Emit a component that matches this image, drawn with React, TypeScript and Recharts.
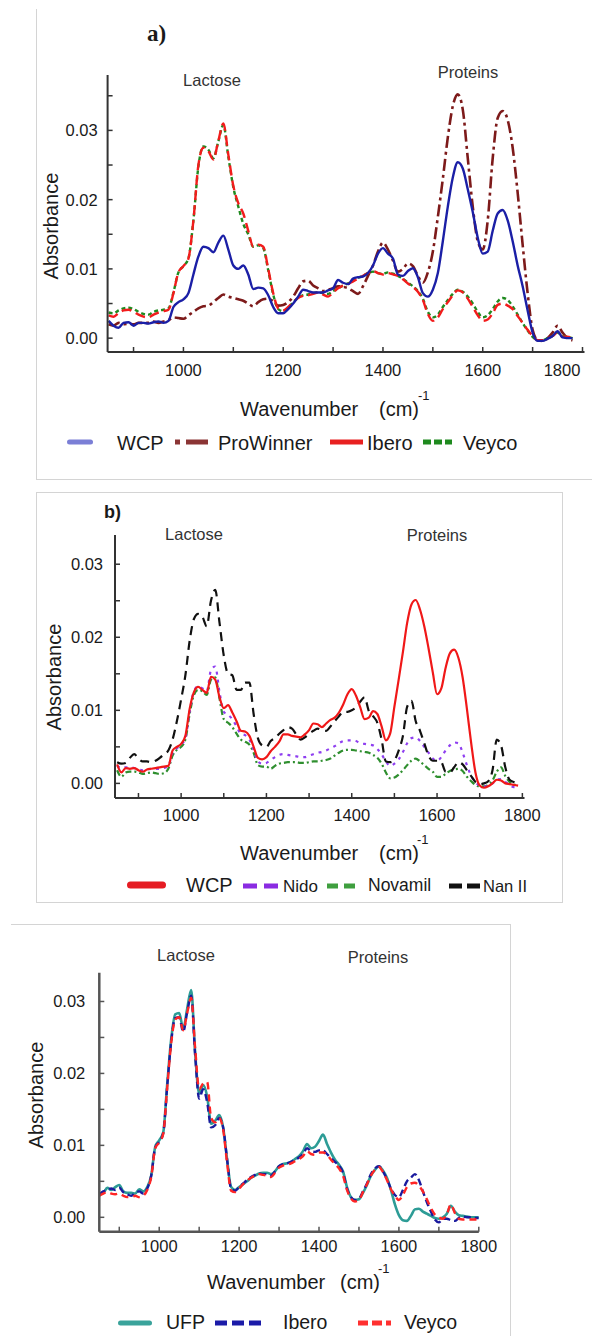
import React from "react";
import { LineChart, Line, XAxis, YAxis } from "recharts";

// shared wavenumber grid (cm-1)
const WAVENUMBERS = [
  850, 860, 870, 880, 890, 900, 910, 920, 930, 940,
  950, 960, 970, 980, 990, 1000, 1010, 1020, 1030, 1040,
  1050, 1060, 1070, 1080, 1090, 1100, 1110, 1120, 1130, 1140,
  1150, 1160, 1170, 1180, 1190, 1200, 1210, 1220, 1230, 1240,
  1250, 1260, 1270, 1280, 1290, 1300, 1310, 1320, 1330, 1340,
  1350, 1360, 1370, 1380, 1390, 1400, 1410, 1420, 1430, 1440,
  1450, 1460, 1470, 1480, 1490, 1500, 1510, 1520, 1530, 1540,
  1550, 1560, 1570, 1580, 1590, 1600, 1610, 1620, 1630, 1640,
  1650, 1660, 1670, 1680, 1690, 1700, 1710, 1720, 1730, 1740,
  1750, 1760, 1770, 1780, 1790, 1800,
];

const X_TICKS = [900, 1000, 1100, 1200, 1300, 1400, 1500, 1600, 1700, 1800];
const Y_TICKS_A = [0, 0.005, 0.01, 0.015, 0.02, 0.025, 0.03, 0.035];
const Y_TICKS = [0, 0.005, 0.01, 0.015, 0.02, 0.025, 0.03];

// ---- panel a ----
const A_WCP = [
  0.0025, 0.0018, 0.0015, 0.0022, 0.0023, 0.0018, 0.0022, 0.0022, 0.0021, 0.0023,
  0.0024, 0.0022, 0.0025, 0.0045, 0.0052, 0.0056, 0.0065, 0.0092, 0.0118, 0.0132,
  0.013, 0.0124, 0.0138, 0.0148, 0.0128, 0.0105, 0.01, 0.0105, 0.0092, 0.0071,
  0.0073, 0.0072, 0.0062, 0.0045, 0.0036, 0.0036, 0.0042, 0.005, 0.006, 0.007,
  0.0068, 0.0066, 0.0066, 0.0066, 0.0069, 0.0072, 0.0084, 0.008, 0.0078, 0.0086,
  0.0088, 0.0089, 0.0094, 0.0105, 0.0122, 0.013, 0.0122, 0.0115, 0.0092, 0.009,
  0.0097, 0.0101, 0.0088, 0.0065, 0.006, 0.007, 0.0094, 0.014, 0.019, 0.0232,
  0.0254, 0.0245, 0.0215, 0.0182, 0.0145, 0.0122, 0.0125, 0.0155, 0.018, 0.0185,
  0.017, 0.014, 0.0105, 0.0075, 0.004, 0.0008, -0.0004, -0.0004, -0.0001, 0.0003,
  0.001, 0.0001, 0.0, 0.0,
];
const A_PROWINNER = [
  0.002, 0.0018, 0.0022, 0.002, 0.0021, 0.002, 0.0022, 0.0022, 0.0022, 0.0024,
  0.0022, 0.0024, 0.0026, 0.003, 0.0029, 0.0028, 0.0033, 0.0038, 0.0043, 0.0046,
  0.0047, 0.0052, 0.0058, 0.0063, 0.006, 0.0058, 0.0056, 0.0054, 0.005, 0.0046,
  0.0052, 0.0056, 0.0057, 0.0053, 0.0047, 0.0048, 0.0052, 0.006, 0.0072, 0.0082,
  0.0083, 0.0076, 0.0072, 0.0068, 0.007, 0.0072, 0.0075, 0.0074, 0.0072, 0.0068,
  0.0064, 0.0075, 0.009, 0.0105, 0.0125, 0.0138, 0.0128, 0.0112, 0.0096, 0.01,
  0.0108, 0.0104, 0.009, 0.008, 0.0095, 0.0125, 0.0175, 0.023, 0.029, 0.0335,
  0.0352, 0.033, 0.026, 0.019, 0.014, 0.0128, 0.017, 0.026, 0.0318, 0.0328,
  0.0315, 0.0275, 0.021, 0.0135, 0.0065, 0.0012, -0.0003, -0.0004, 0.0, 0.0008,
  0.0018, 0.0008, 0.0, -0.0003,
];
const A_IBERO = [
  0.0033, 0.0031, 0.0036, 0.004, 0.0041, 0.0038, 0.0034, 0.0031, 0.003, 0.0034,
  0.0037, 0.0039, 0.0041, 0.0065, 0.0095, 0.0104, 0.0115, 0.017, 0.025, 0.0275,
  0.027, 0.0258, 0.0285, 0.031, 0.0265, 0.022, 0.0195, 0.018, 0.0155, 0.0132,
  0.0135, 0.0132, 0.01, 0.0065, 0.0043, 0.004, 0.0045, 0.0052, 0.0058, 0.0061,
  0.0062, 0.0064, 0.0066, 0.0063, 0.006, 0.0066, 0.0072, 0.0076, 0.0078, 0.0082,
  0.0086, 0.009, 0.0094, 0.0097, 0.0094, 0.0092, 0.0094, 0.0092, 0.009, 0.0085,
  0.0079, 0.0074, 0.0067, 0.0055, 0.0035, 0.0025, 0.003, 0.0042, 0.0052, 0.0062,
  0.0069, 0.0066, 0.0057, 0.0045, 0.0033, 0.0025, 0.0027, 0.0036, 0.0048, 0.005,
  0.0047, 0.0042, 0.0032, 0.0022, 0.0012, 0.0003, -0.0003, -0.0003, 0.0, 0.0003,
  0.0008, 0.0002, 0.0002, 0.0,
];
const A_VEYCO = [
  0.0037, 0.0036, 0.004, 0.0043, 0.0044, 0.0042, 0.0038, 0.0035, 0.0034, 0.0038,
  0.004, 0.0041, 0.0043, 0.0066, 0.0095, 0.0104, 0.0115, 0.017, 0.0248, 0.0277,
  0.0272, 0.026, 0.0284, 0.0308, 0.0262, 0.0218, 0.019, 0.0165, 0.015, 0.0132,
  0.0134, 0.013, 0.0098, 0.0063, 0.0042, 0.0039, 0.0044, 0.0052, 0.0058, 0.0062,
  0.0063, 0.0065, 0.0066, 0.0065, 0.0064, 0.0068, 0.0072, 0.0076, 0.0079, 0.0083,
  0.0087, 0.009, 0.0094, 0.0096, 0.0094, 0.0093, 0.0095, 0.0093, 0.009, 0.0086,
  0.008, 0.0075, 0.0068, 0.0057, 0.0038, 0.003, 0.0034, 0.0045, 0.0055, 0.0064,
  0.007, 0.0067, 0.006, 0.005, 0.0038, 0.003, 0.0033, 0.0042, 0.0053, 0.0058,
  0.0055, 0.0046, 0.0034, 0.0022, 0.0011, 0.0002, -0.0003, -0.0003, 0.0, 0.0003,
  0.0008, 0.0003, 0.0002, 0.0,
];

// ---- panel b ----
const B_WCP = [
  0.0026, 0.0015, 0.0021, 0.002, 0.0021, 0.0018, 0.0016, 0.0019, 0.002, 0.0021,
  0.0022, 0.0023, 0.0024, 0.0045, 0.005, 0.0054, 0.0065, 0.0102, 0.0125, 0.0132,
  0.0128, 0.0124, 0.0146, 0.0142, 0.0118, 0.0103, 0.0107, 0.0097, 0.0085, 0.0072,
  0.0071, 0.0065, 0.005, 0.0035, 0.0033, 0.0036, 0.0044, 0.005, 0.0057, 0.0067,
  0.0067, 0.0065, 0.0064, 0.0063, 0.0067, 0.0073, 0.0082, 0.0081, 0.0077, 0.0082,
  0.0087, 0.009, 0.0097, 0.0108, 0.0122, 0.0129, 0.012, 0.0104, 0.0088, 0.009,
  0.0099, 0.0095, 0.0078, 0.0059, 0.0068, 0.0105, 0.0142, 0.018, 0.022, 0.0245,
  0.0251, 0.0238, 0.0215, 0.0185, 0.0152, 0.0122, 0.013, 0.0158, 0.0178, 0.0183,
  0.0172, 0.0145, 0.0102, 0.0055, 0.0015, -0.0003, -0.0006, -0.0004, 0.0, 0.0005,
  0.0004, 0.0, -0.0001, -0.0002, -0.0003,
];
const B_NIDO = [
  0.0024, 0.0021, 0.0022, 0.0022, 0.0021, 0.0019, 0.0018, 0.0019, 0.002, 0.002,
  0.002, 0.0021, 0.0024, 0.0042, 0.0048, 0.0053, 0.0062, 0.0098, 0.0126, 0.0133,
  0.013, 0.0126, 0.0155, 0.016, 0.0125, 0.0098, 0.0094, 0.0088, 0.0078, 0.0068,
  0.0066, 0.006, 0.0046, 0.003, 0.0027, 0.0028, 0.0032, 0.0036, 0.0039, 0.004,
  0.0039, 0.0038, 0.0037, 0.0036, 0.0036, 0.0038, 0.004, 0.0042, 0.0043, 0.0045,
  0.0048, 0.0051, 0.0055, 0.0058, 0.0059, 0.0059, 0.0058, 0.0055, 0.0054, 0.0053,
  0.0052, 0.0047, 0.004, 0.003, 0.0024, 0.0027, 0.0033, 0.0043, 0.0055, 0.0062,
  0.0063, 0.0058, 0.005, 0.0042, 0.0034, 0.0031, 0.0036, 0.0045, 0.0052, 0.0056,
  0.0055, 0.0042, 0.0025, 0.001, 0.0002, -0.0003, -0.0004, -0.0003, 0.0, 0.0005,
  0.0006, 0.0002, -0.0002, -0.0005, -0.0005,
];
const B_NOVAMIL = [
  0.0018, 0.0009, 0.0015, 0.0016, 0.0016, 0.0015, 0.0013, 0.0014, 0.0015, 0.0014,
  0.0013, 0.0014, 0.002, 0.0038, 0.0046, 0.005, 0.006, 0.0095, 0.0121, 0.0128,
  0.0126, 0.0121, 0.0142, 0.0145, 0.0116, 0.0088, 0.0083, 0.0077, 0.0068, 0.006,
  0.0057, 0.0053, 0.0042, 0.0025, 0.0023, 0.0023, 0.002, 0.0024, 0.0027, 0.0028,
  0.0029, 0.0029, 0.0029, 0.0028, 0.0028, 0.0029, 0.003, 0.003, 0.0031, 0.0032,
  0.0034, 0.0038, 0.0042, 0.0045, 0.0046, 0.0046, 0.0045, 0.0044, 0.0043, 0.0042,
  0.0039, 0.0035, 0.0027, 0.0015, 0.0007, 0.0008, 0.0012, 0.0018, 0.0025, 0.0031,
  0.0034, 0.003, 0.0025, 0.002, 0.0016, 0.0009, 0.0009, 0.0013, 0.0017, 0.0019,
  0.002, 0.0017, 0.0009, 0.0003, -0.0002, -0.0004, -0.0004, -0.0002, 0.0004, 0.0016,
  0.0022, 0.001, 0.0002, -0.0002, -0.0002,
];
const B_NAN2 = [
  0.0029, 0.0027, 0.0028, 0.0035, 0.004, 0.0034, 0.003, 0.003, 0.0029, 0.0031,
  0.0035, 0.004, 0.0045, 0.006, 0.0085, 0.0115, 0.0148, 0.0195, 0.0225, 0.0232,
  0.0228, 0.0215, 0.025, 0.0265, 0.022, 0.0175, 0.015, 0.0148, 0.0128, 0.0128,
  0.0138, 0.0138, 0.0095, 0.0062, 0.0052, 0.005, 0.0058, 0.0062, 0.0068, 0.0073,
  0.0077, 0.0075, 0.0067, 0.006, 0.0063, 0.0068, 0.0072, 0.0075, 0.0073, 0.0072,
  0.0078, 0.0085, 0.0092, 0.0098, 0.0098, 0.01, 0.0104, 0.0112, 0.0118, 0.0099,
  0.0092, 0.0083, 0.006, 0.003, 0.0029, 0.0032, 0.0045, 0.0065, 0.0105, 0.0113,
  0.0085, 0.0072, 0.0055, 0.0038, 0.0031, 0.0031, 0.0029, 0.0016, 0.0015, 0.0022,
  0.0029, 0.0026, 0.0018, 0.001, 0.0002, -0.0001, 0.0, 0.0003, 0.0018, 0.006,
  0.0052, 0.0022, 0.0005, 0.0002, 0.0001,
];

// ---- panel c ----
const C_UFP = [
  0.0033, 0.0034, 0.0041, 0.0038, 0.0042, 0.0045, 0.0036, 0.0034, 0.0034, 0.0033,
  0.0039, 0.0036, 0.0042, 0.0058, 0.0098, 0.0107, 0.0118, 0.0185, 0.0248, 0.0282,
  0.0284, 0.0262, 0.029, 0.0316, 0.0228, 0.0172, 0.0184, 0.0168, 0.013, 0.0134,
  0.0142, 0.0125, 0.008, 0.0042, 0.0038, 0.0042, 0.0046, 0.005, 0.0055, 0.0058,
  0.0061, 0.0062, 0.0062, 0.006, 0.0064, 0.0071, 0.0074, 0.0075, 0.0077, 0.0081,
  0.0085, 0.0092, 0.0102, 0.0096, 0.0098, 0.0106, 0.0115, 0.0102, 0.009, 0.008,
  0.0073, 0.0064, 0.0042, 0.0028, 0.0024, 0.0025, 0.0034, 0.0045, 0.0058, 0.0066,
  0.0071, 0.0065, 0.0055, 0.0038, 0.0018, 0.0003, -0.0004, -0.0005, 0.0002, 0.0011,
  0.0012, 0.0008, 0.0005, 0.0002, -0.0001, -0.0002, 0.0, 0.0005, 0.0016, 0.0008,
  0.0003, 0.0002, 0.0001, 0.0, 0.0, 0.0,
];
const C_IBERO = [
  0.0032, 0.0036, 0.0038, 0.004, 0.0038, 0.0041, 0.0035, 0.0032, 0.003, 0.0034,
  0.0036, 0.0033, 0.004, 0.0058, 0.0097, 0.0105, 0.0117, 0.0182, 0.0244, 0.0277,
  0.0278, 0.0258, 0.0285, 0.0308, 0.0225, 0.0165, 0.0178, 0.016, 0.0125, 0.0128,
  0.0138, 0.0125, 0.008, 0.004, 0.0037, 0.0042, 0.0047, 0.0052, 0.0056, 0.0059,
  0.0061, 0.006, 0.006, 0.0058, 0.0064, 0.0071, 0.0074, 0.0075, 0.0077, 0.008,
  0.0083, 0.0088, 0.0096, 0.0092, 0.0091, 0.0093, 0.0093, 0.0088, 0.0082, 0.0077,
  0.0072, 0.0062, 0.004, 0.0028, 0.0024, 0.0026, 0.0036, 0.0047, 0.006, 0.0068,
  0.0071, 0.0064, 0.0053, 0.004, 0.0031, 0.0028, 0.0038, 0.005, 0.0055, 0.006,
  0.0052, 0.0036, 0.0021, 0.0008, -0.0003, -0.0007, -0.0002, -0.0002, -0.0004, -0.0005,
  -0.0001, 0.0001, 0.0, 0.0, -0.0001, -0.0001,
];
const C_VEYCO = [
  0.003, 0.0033, 0.0035, 0.0033, 0.0032, 0.0033, 0.003, 0.0028, 0.0028, 0.003,
  0.0028, 0.003, 0.0038, 0.0056, 0.0096, 0.0104, 0.0116, 0.018, 0.0242, 0.0275,
  0.0278, 0.026, 0.0284, 0.0305, 0.0235, 0.0178, 0.0186, 0.0188, 0.0138, 0.0132,
  0.0138, 0.0122, 0.0075, 0.0037, 0.0035, 0.004, 0.0046, 0.0051, 0.0055, 0.0058,
  0.006, 0.0059, 0.0058, 0.0056, 0.0062, 0.0069, 0.0072, 0.0073, 0.0075, 0.0078,
  0.0081, 0.0085, 0.0092, 0.0088, 0.0087, 0.009, 0.009, 0.0087, 0.008, 0.0074,
  0.0068, 0.0058, 0.0038, 0.0026, 0.0022, 0.0024, 0.0035, 0.0046, 0.0058, 0.0066,
  0.007, 0.0063, 0.0052, 0.0039, 0.003, 0.0024, 0.0031, 0.0042, 0.0047, 0.0048,
  0.0044, 0.0036, 0.0025, 0.0013, 0.0004, 0.0, -0.0002, 0.0004, 0.0018, 0.0006,
  -0.0002, -0.0003, -0.0003, -0.0003, -0.0003, -0.0003,
];

const FONT = '"Liberation Sans", Arial, sans-serif';
const INK = "#1a1a1a";

type Series = { key: string; data: number[]; color: string; width: number; dash?: string };

function XTick(props: any) {
  const { x, y, payload, dy, color, maxLabelX } = props;
  const v = payload.value as number;
  // keep the last label inside the page, like the original figure does
  const lx = maxLabelX ? Math.min(x, maxLabelX) : x;
  return (
    <g>
      <line x1={x} x2={x} y1={y} y2={y - 5} stroke={color} strokeWidth={1.5} />
      {v % 200 === 0 && (
        <text x={lx} y={y + dy} textAnchor="middle" fontSize={16.5} fontFamily={FONT} fill={INK}>
          {v}
        </text>
      )}
    </g>
  );
}

function YTick(props: any) {
  const { x, y, payload, gap, color } = props;
  const v = payload.value as number;
  const major = Math.round(v * 1000) % 10 === 0;
  return (
    <g>
      <line x1={x} x2={x + 5} y1={y} y2={y} stroke={color} strokeWidth={1.5} />
      {major && (
        <text x={x - gap} y={y + 6} textAnchor="end" fontSize={16.5} fontFamily={FONT} fill={INK}>
          {v.toFixed(2)}
        </text>
      )}
    </g>
  );
}

function Spectrum({
  top, height, margin, xDomain, yDomain, yTicks, series, yGap, xDy, axisColor, axisWidth, maxLabelX,
}: {
  top: number; height: number;
  margin: { top: number; right: number; bottom: number; left: number };
  xDomain: [number, number]; yDomain: [number, number]; yTicks: number[];
  series: Series[]; yGap: number; xDy: number; axisColor: string; axisWidth: number;
  maxLabelX?: number;
}) {
  const rows = WAVENUMBERS.map((w, i) => {
    const r: Record<string, number | undefined> = { w };
    series.forEach((s) => { r[s.key] = s.data[i]; });
    return r;
  });
  return (
    <div style={{ position: "absolute", left: 0, top }}>
      <LineChart width={592} height={height} data={rows} margin={margin}>
        <XAxis
          dataKey="w" type="number" domain={xDomain} allowDataOverflow
          ticks={X_TICKS} interval={0} height={40} tickSize={0} tickMargin={0}
          axisLine={{ stroke: axisColor, strokeWidth: axisWidth }} tickLine={false}
          tick={(p: any) => <XTick {...p} dy={xDy} color={axisColor} maxLabelX={maxLabelX} />}
        />
        <YAxis
          type="number" domain={yDomain} allowDataOverflow
          ticks={yTicks} interval={0} width={60} tickSize={0} tickMargin={0}
          axisLine={{ stroke: axisColor, strokeWidth: axisWidth }} tickLine={false}
          tick={(p: any) => <YTick {...p} gap={yGap} color={axisColor} />}
        />
        {series.map((s) => (
          <Line
            key={s.key} dataKey={s.key} type="monotone" stroke={s.color}
            strokeWidth={s.width} strokeDasharray={s.dash} dot={false}
            isAnimationActive={false}
          />
        ))}
      </LineChart>
    </div>
  );
}

function T({ x, y, size, children, center = false, weight = 400, family = FONT, color = INK }: any) {
  return (
    <div
      style={{
        position: "absolute", left: x, top: y, fontSize: size, fontFamily: family,
        fontWeight: weight, color, lineHeight: 1, whiteSpace: "nowrap",
        transform: center ? "translate(-50%, -50%)" : "translateY(-50%)",
      }}
    >
      {children}
    </div>
  );
}

function VLabel({ x, y }: { x: number; y: number }) {
  return (
    <div
      style={{
        position: "absolute", left: x, top: y, fontSize: 20, fontFamily: FONT, color: INK,
        lineHeight: 1, whiteSpace: "nowrap", transform: "translate(-50%, -50%) rotate(-90deg)",
      }}
    >
      Absorbance
    </div>
  );
}

function XTitle({ x, cm, sup, y }: { x: number; cm: number; sup: number; y: number }) {
  return (
    <>
      <T x={x} y={y} size={20}>Wavenumber</T>
      <T x={cm} y={y} size={20}>(cm)</T>
      <T x={sup} y={y - 14} size={13}>-1</T>
    </>
  );
}

function Swatch({ x1, x2, y, color, thick, dash, cap = "butt" }: any) {
  const w = x2 - x1;
  return (
    <svg style={{ position: "absolute", left: x1, top: y - 6 }} width={w} height={12}>
      <line x1={cap === "round" ? thick / 2 : 0} x2={cap === "round" ? w - thick / 2 : w} y1={6} y2={6}
        stroke={color} strokeWidth={thick} strokeDasharray={dash} strokeLinecap={cap} />
    </svg>
  );
}

const SERIES_A: Series[] = [
  { key: "prowinner", data: A_PROWINNER, color: "#7d1a1a", width: 2.6, dash: "12 4 3 4" },
  { key: "veyco", data: A_VEYCO, color: "#1f8a1f", width: 2.4, dash: "4 3" },
  { key: "ibero", data: A_IBERO, color: "#f21c1c", width: 2.4, dash: "10 5" },
  { key: "wcp", data: A_WCP, color: "#1b1fa6", width: 2.4 },
];
const SERIES_B: Series[] = [
  { key: "novamil", data: B_NOVAMIL, color: "#2f8f2f", width: 2.2, dash: "6 3 2 3" },
  { key: "nido", data: B_NIDO, color: "#8f3ff0", width: 2.2, dash: "3 5" },
  { key: "nan2", data: B_NAN2, color: "#111111", width: 2.2, dash: "9 6" },
  { key: "wcp", data: B_WCP, color: "#f01818", width: 2.2 },
];
const SERIES_C: Series[] = [
  { key: "ufp", data: C_UFP, color: "#2d9c96", width: 2.6 },
  { key: "ibero", data: C_IBERO, color: "#1a1a9e", width: 2.4, dash: "7 4" },
  { key: "veyco", data: C_VEYCO, color: "#ff2525", width: 2.4, dash: "7 5" },
];

export default function App() {
  return (
    <div style={{ position: "absolute", left: 0, top: 0, width: 592, height: 1336, background: "#fff", overflow: "hidden" }}>
      {/* frames */}
      <div style={{ position: "absolute", left: 36, top: 9, width: 556, height: 470, borderLeft: "1px solid #d4d4d4", borderBottom: "1px solid #d4d4d4" }} />
      <div style={{ position: "absolute", left: 36, top: 492, width: 525, height: 409, border: "1px solid #d4d4d4" }} />
      <div style={{ position: "absolute", left: 11, top: 924, width: 499, height: 420, borderTop: "1px solid #d4d4d4", borderRight: "1px solid #d4d4d4" }} />

      {/* panel a */}
      <Spectrum
        top={0} height={480}
        margin={{ top: 75, right: 7.5, bottom: 88, left: 47.6 }}
        xDomain={[848, 1804]} yDomain={[-0.002, 0.038]} yTicks={Y_TICKS_A}
        series={SERIES_A} yGap={10} xDy={24} axisColor="#333" axisWidth={2}
        maxLabelX={562}
      />
      <T x={147} y={33} size={23} weight={700} family='"Liberation Serif", "Times New Roman", serif'>a)</T>
      <T x={212} y={80} size={16.5} center color="#333">Lactose</T>
      <T x={468} y={72} size={16.5} center color="#333">Proteins</T>
      <VLabel x={51} y={226} />
      <XTitle x={240} cm={379} sup={418} y={409} />
      <Swatch x1={67} x2={93} y={442} color="#7b7fd6" thick={5} cap="round" />
      <T x={117} y={443} size={20}>WCP</T>
      <Swatch x1={175} x2={208} y={442} color="#8b3535" thick={5} dash="5 6 30" />
      <T x={218} y={443} size={20}>ProWinner</T>
      <Swatch x1={330} x2={363} y={442} color="#e82020" thick={5} />
      <T x={367} y={443} size={20}>Ibero</T>
      <Swatch x1={423} x2={452} y={442} color="#1e8a1e" thick={5} dash="8 3" />
      <T x={463} y={443} size={20}>Veyco</T>

      {/* panel b */}
      <Spectrum
        top={485} height={420}
        margin={{ top: 50, right: 67.5, bottom: 67, left: 55 }}
        xDomain={[845, 1805]} yDomain={[-0.002, 0.034]} yTicks={Y_TICKS}
        series={SERIES_B} yGap={12} xDy={23} axisColor="#333" axisWidth={2}
      />
      <T x={104} y={512} size={18} weight={700}>b)</T>
      <T x={194} y={534} size={16.5} center color="#333">Lactose</T>
      <T x={437} y={535} size={16.5} center color="#333">Proteins</T>
      <VLabel x={54} y={677} />
      <XTitle x={240} cm={379} sup={417} y={853} />
      <Swatch x1={127} x2={166} y={885} color="#e51c23" thick={7} cap="round" />
      <T x={186} y={885} size={20}>WCP</T>
      <Swatch x1={243} x2={278} y={886} color="#8a2be2" thick={5} dash="14 7" />
      <T x={283} y={886} size={17}>Nido</T>
      <Swatch x1={327} x2={357} y={886} color="#3f9f3f" thick={5} dash="11 6" />
      <T x={368} y={886} size={17.5}>Novamil</T>
      <Swatch x1={449} x2={482} y={886} color="#111" thick={5} dash="13 5" />
      <T x={483} y={886} size={16.5}>Nan II</T>

      {/* panel c */}
      <Spectrum
        top={920} height={416}
        margin={{ top: 52.7, right: 113.2, bottom: 64.3, left: 39.3 }}
        xDomain={[850, 1800]} yDomain={[-0.002, 0.034]} yTicks={Y_TICKS}
        series={SERIES_C} yGap={14} xDy={20} axisColor="#555" axisWidth={2.5}
      />
      <T x={186} y={955} size={16.5} center color="#333">Lactose</T>
      <T x={378} y={957} size={16.5} center color="#333">Proteins</T>
      <VLabel x={36} y={1095} />
      <XTitle x={207} cm={340} sup={378} y={1282} />
      <Swatch x1={118} x2={152} y={1323} color="#3aa39b" thick={5} cap="round" />
      <T x={166} y={1323} size={19.5}>UFP</T>
      <Swatch x1={215} x2={261} y={1323} color="#1b1ba8" thick={5} dash="12 5" />
      <T x={283} y={1323} size={19.5}>Ibero</T>
      <Swatch x1={358} x2={391} y={1323} color="#ff3030" thick={5} dash="10 4" />
      <T x={404} y={1323} size={19.5}>Veyco</T>
    </div>
  );
}
